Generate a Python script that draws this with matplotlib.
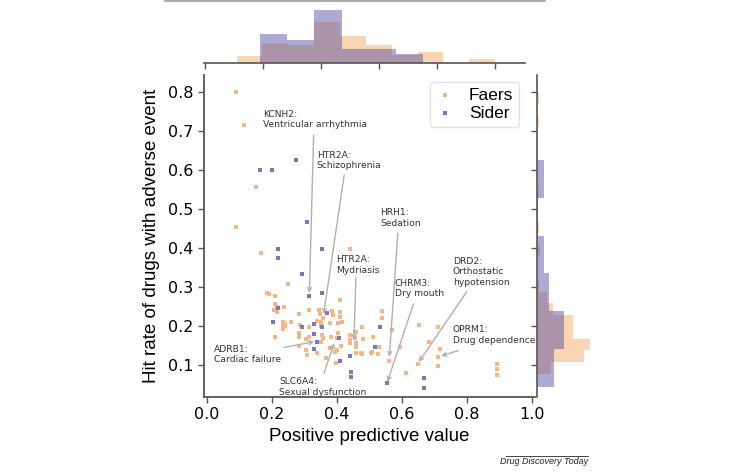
import matplotlib
matplotlib.use("Agg")
import matplotlib.pyplot as plt
import numpy as np

# --- scatter data (positive predictive value, hit rate) ---
faers_x = [0.09, 0.115, 0.15, 0.09, 0.165, 0.44, 0.25, 0.185, 0.19, 0.21, 0.41, 0.21,
           0.215, 0.236, 0.207, 0.313, 0.284, 0.346, 0.348, 0.358, 0.386, 0.389, 0.409,
           0.409, 0.415, 0.235, 0.24, 0.233, 0.258, 0.235, 0.286, 0.315, 0.338, 0.35,
           0.35, 0.378, 0.404, 0.284, 0.284, 0.209, 0.315, 0.305, 0.353, 0.358, 0.38,
           0.402, 0.35, 0.378, 0.399, 0.283, 0.304, 0.308, 0.338, 0.366, 0.395, 0.396,
           0.411, 0.399, 0.441, 0.441, 0.441, 0.455, 0.458, 0.457, 0.458, 0.455, 0.477,
           0.479, 0.473, 0.477, 0.457, 0.537, 0.537, 0.512, 0.53, 0.507, 0.505, 0.525,
           0.568, 0.594, 0.561, 0.612, 0.652, 0.684, 0.649, 0.711, 0.717, 0.711, 0.711,
           0.891, 0.891, 0.891, 0.214, 0.241]
faers_y = [0.80, 0.715, 0.556, 0.454, 0.386, 0.398, 0.307, 0.285, 0.282, 0.277, 0.267, 0.256,
           0.249, 0.248, 0.241, 0.240, 0.231, 0.241, 0.231, 0.220, 0.239, 0.228, 0.236,
           0.224, 0.210, 0.211, 0.204, 0.202, 0.211, 0.192, 0.203, 0.197, 0.213, 0.210,
           0.200, 0.208, 0.207, 0.181, 0.173, 0.173, 0.173, 0.166, 0.177, 0.168, 0.173,
           0.181, 0.160, 0.143, 0.138, 0.149, 0.139, 0.126, 0.130, 0.118, 0.133, 0.104,
           0.149, 0.168, 0.177, 0.164, 0.156, 0.168, 0.156, 0.147, 0.185, 0.184, 0.197,
           0.166, 0.132, 0.128, 0.132, 0.238, 0.220, 0.171, 0.146, 0.134, 0.130, 0.128,
           0.190, 0.145, 0.111, 0.079, 0.202, 0.158, 0.103, 0.198, 0.141, 0.121, 0.098,
           0.103, 0.089, 0.074, 0.237, 0.200]

sider_x = [0.162, 0.20, 0.274, 0.308, 0.217, 0.217, 0.353, 0.293, 0.314, 0.353, 0.219,
           0.368, 0.202, 0.291, 0.33, 0.353, 0.33, 0.407, 0.338, 0.33, 0.409, 0.441,
           0.442, 0.442, 0.532, 0.518, 0.555, 0.668, 0.668]
sider_y = [0.60, 0.60, 0.626, 0.467, 0.398, 0.374, 0.398, 0.333, 0.277, 0.284, 0.247,
           0.234, 0.211, 0.198, 0.204, 0.198, 0.179, 0.170, 0.159, 0.142, 0.110, 0.123,
           0.083, 0.070, 0.198, 0.146, 0.053, 0.067, 0.042]

# --- marginal histograms (bin edges + bar heights) ---
top_faers_edges = np.linspace(0.109, 1.0, 11)
top_faers_h = [6.7, 20, 17.7, 40.7, 26.7, 17.7, 8, 11, 0, 4]
top_sider_edges = np.linspace(0.19, 0.753, 7)
top_sider_h = [29, 23.3, 53.3, 14, 14, 9]

right_faers_edges = np.linspace(0.077, 0.80, 25)
right_faers_h = [14, 47.3, 52.7, 36, 36, 15.7, 10, 1.7, 0, 0, 3.4, 0, 1.7, 0, 0, 1.7,
                 0, 0, 0, 0, 0, 1.7, 0, 1.7]
right_sider_edges = np.linspace(0.044, 0.626, 7)
right_sider_h = [17, 27, 11.7, 7, 1, 7]

annotations = [
    ("KCNH2:\nVentricular arrhythmia", (0.173, 0.755), (0.328, 0.69), (0.315, 0.285)),
    ("HTR2A:\nSchizophrenia", (0.338, 0.65), (0.422, 0.587), (0.359, 0.231)),
    ("HTR2A:\nMydriasis", (0.396, 0.381), (0.458, 0.323), (0.452, 0.164)),
    ("HRH1:\nSedation", (0.532, 0.502), (0.587, 0.438), (0.561, 0.121)),
    ("CHRM3:\nDry mouth", (0.578, 0.321), (0.635, 0.256), (0.555, 0.057)),
    ("DRD2:\nOrthostatic\nhypotension", (0.756, 0.377), (0.799, 0.288), (0.652, 0.108)),
    ("OPRM1:\nDrug dependence", (0.756, 0.202), (0.773, 0.137), (0.72, 0.123)),
    ("ADRB1:\nCardiac failure", (0.022, 0.152), (0.237, 0.145), (0.33, 0.16)),
    ("SLC6A4:\nSexual dysfunction", (0.222, 0.068), (0.36, 0.079), (0.391, 0.156)),
]

orange_pt = '#f5b585'
purple_pt = '#7d76b8'
orange_h = '#f5a35a'
purple_h = '#4b44a0'
spine_c = '#555555'

W, H = 740, 475
fig = plt.figure(figsize=(7.4, 4.75), dpi=100)


def px_axes(x0, y0, x1, y1):
    return fig.add_axes([x0 / W, 1 - y1 / H, (x1 - x0) / W, (y1 - y0) / H])


# main scatter
ax = px_axes(204, 75, 535, 397)
ax.scatter(faers_x, faers_y, marker='s', s=10, color=orange_pt, linewidths=0, label='Faers', zorder=2)
ax.scatter(sider_x, sider_y, marker='s', s=10, color=purple_pt, linewidths=0, label='Sider', zorder=3)
ax.set_xlim(-0.0092, 1.009)
ax.set_ylim(0.018, 0.8436)
ax.set_xticks([0.0, 0.2, 0.4, 0.6, 0.8, 1.0])
ax.set_yticks([0.1, 0.2, 0.3, 0.4, 0.5, 0.6, 0.7, 0.8])
ax.tick_params(labelsize=11.5, length=4, color=spine_c, width=1)
for s in ['top', 'right']:
    ax.spines[s].set_visible(False)
for s in ['left', 'bottom']:
    ax.spines[s].set_color(spine_c)
    ax.spines[s].set_linewidth(1.3)
ax.set_xlabel('Positive predictive value', family='Liberation Sans', fontsize=13.5, labelpad=4)
ax.set_ylabel('Hit rate of drugs with adverse event', family='Liberation Sans', fontsize=13.5, labelpad=6)

for txt, tpos, start, tip in annotations:
    ax.text(tpos[0], tpos[1], txt, fontsize=6.6, color='#333333', ha='left', va='top',
            linespacing=1.2, zorder=4)
    ax.annotate('', xy=tip, xytext=start,
                arrowprops=dict(arrowstyle='->', color='#b0b0b0', lw=1, mutation_scale=7,
                                shrinkA=0, shrinkB=0), zorder=4)

leg = ax.legend(loc='upper right', bbox_to_anchor=(0.953, 0.979), borderaxespad=0,
                prop={'family': 'Liberation Sans', 'size': 12.5}, markerscale=1.0,
                handlelength=1.0, handletextpad=0.9, labelspacing=0.15, borderpad=0.35,
                frameon=True, fancybox=True)
leg.get_frame().set_edgecolor('#dddddd')

# top marginal
axt = px_axes(204, 3, 525, 63)
axt.bar(top_faers_edges[:-1], top_faers_h, width=np.diff(top_faers_edges), align='edge',
        color=orange_h, alpha=0.45, linewidth=0)
axt.bar(top_sider_edges[:-1], top_sider_h, width=np.diff(top_sider_edges), align='edge',
        color=purple_h, alpha=0.45, linewidth=0)
axt.set_xlim(-0.003, 1.103)
axt.set_ylim(0, 60)
axt.set_xticks([0.0, 0.2, 0.4, 0.6, 0.8, 1.0])
axt.set_yticks([])
axt.tick_params(labelbottom=False, length=4, color=spine_c, width=1)
for s in ['top', 'right', 'left']:
    axt.spines[s].set_visible(False)
axt.spines['bottom'].set_color(spine_c)
axt.spines['bottom'].set_linewidth(1.2)

# right marginal
axr = px_axes(537, 75, 597, 397)
axr.barh(right_faers_edges[:-1], right_faers_h, height=np.diff(right_faers_edges), align='edge',
         color=orange_h, alpha=0.45, linewidth=0)
axr.barh(right_sider_edges[:-1], right_sider_h, height=np.diff(right_sider_edges), align='edge',
         color=purple_h, alpha=0.45, linewidth=0)
axr.set_ylim(0.018, 0.8436)
axr.set_xlim(0, 60)
axr.set_yticks([0.1, 0.2, 0.3, 0.4, 0.5, 0.6, 0.7, 0.8])
axr.set_xticks([])
axr.tick_params(labelleft=False, length=4, color=spine_c, width=1)
for s in ['top', 'right', 'bottom']:
    axr.spines[s].set_visible(False)
axr.spines['left'].set_color(spine_c)
axr.spines['left'].set_linewidth(1.2)

# frame line at the top and journal footer
fig.add_artist(plt.Line2D([165 / W, 545 / W], [1 - 1 / H, 1 - 1 / H], color='#999999', lw=1.2))
fig.add_artist(plt.Line2D([506 / W, 588 / W], [1 - 456 / H, 1 - 456 / H], color='#444444', lw=0.7))
fig.text(544 / W, 1 - 462 / H, 'Drug Discovery Today', family='Liberation Sans', style='italic',
         fontsize=6.5, ha='center', va='center', color='#222222')

fig.savefig('out.png', dpi=100)
